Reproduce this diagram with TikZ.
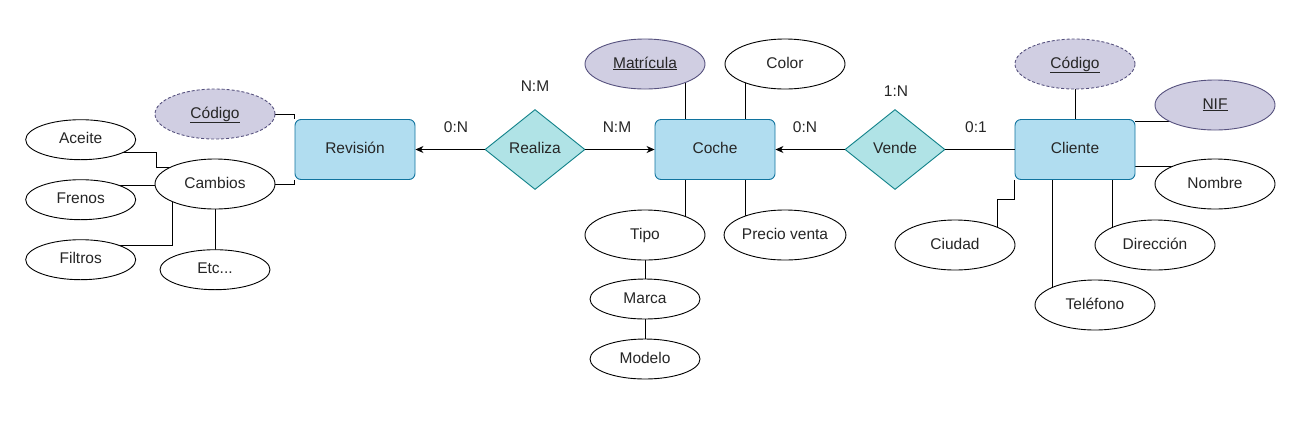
\documentclass[tikz,border=0pt]{standalone}
\usepackage{fontspec}
\setmainfont{Liberation Sans}
\usetikzlibrary{shapes.geometric,arrows.meta,calc,backgrounds}
\definecolor{entfill}{HTML}{B1DDF0}
\definecolor{entdraw}{HTML}{10739E}
\definecolor{relfill}{HTML}{B0E3E6}
\definecolor{reldraw}{HTML}{0E8088}
\definecolor{keyfill}{HTML}{D0CEE2}
\definecolor{keydraw}{HTML}{56517E}
\tikzset{
  every node/.style={font=\fontsize{15.5}{18}\selectfont, text=black!85, text height=11pt, text depth=3pt},
  entity/.style={draw=entdraw, fill=entfill, rounded corners=6pt, minimum width=120pt, minimum height=60pt, inner sep=0pt, line width=0.9pt},
  relation/.style={diamond, draw=reldraw, fill=relfill, minimum width=100pt, minimum height=80pt, inner sep=0pt, aspect=1.25, line width=0.9pt},
  attr/.style={ellipse, draw=black, fill=white, minimum width=120pt, minimum height=50pt, inner sep=0pt, line width=0.9pt},
  sattr/.style={attr, minimum width=110pt, minimum height=40pt},
  keyattr/.style={attr, draw=keydraw, fill=keyfill},
  weakkey/.style={keyattr, dash pattern=on 3pt off 2pt},
  link/.style={draw=black, line width=0.9pt},
  arr/.style={link, -{Stealth[length=8pt,width=7pt,inset=2.5pt]}},
  card/.style={inner sep=1pt}
}
\begin{document}
\begin{tikzpicture}[x=1pt,y=-1pt]
\useasboundingbox (0,0) rectangle (1305,424);
% entities
\node[entity] (rev) at (355,149.5) {Revisión};
\node[entity] (coche) at (715,149.5) {Coche};
\node[entity] (cliente) at (1075,149.5) {Cliente};
% relations
\node[relation] (realiza) at (535,149.5) {Realiza};
\node[relation] (vende) at (895,149.5) {Vende};
% left attributes
\node[weakkey] (codL) at (215,114) {\underline{Código}};
\node[attr] (cambios) at (215,184) {Cambios};
\node[sattr] (aceite) at (80.7,139.7) {Aceite};
\node[sattr] (frenos) at (80.7,199.7) {Frenos};
\node[sattr] (filtros) at (80.7,259.7) {Filtros};
\node[sattr] (etc) at (215,269.7) {Etc...};
% coche attributes
\node[keyattr] (matr) at (645,64) {\underline{Matrícula}};
\node[attr] (color) at (785,64) {Color};
\node[attr] (tipo) at (645,235) {Tipo};
\node[attr] (precio) at (785,235) {Precio venta};
\node[sattr] (marca) at (645,299) {Marca};
\node[sattr] (modelo) at (645,359) {Modelo};
% cliente attributes
\node[weakkey] (codR) at (1075,64) {\underline{Código}};
\node[keyattr] (nif) at (1215,105) {\underline{NIF}};
\node[attr] (nombre) at (1215,184) {Nombre};
\node[attr] (dir) at (1155,245) {Dirección};
\node[attr] (tel) at (1095,305) {Teléfono};
\node[attr] (ciudad) at (955,245) {Ciudad};
% cardinalities
\node[card] (c1) at (535,87) {N:M};
\node[card] (c2) at (456,128) {0:N};
\node[card] (c3) at (617,128) {N:M};
\node[card] (c4) at (805,128) {0:N};
\node[card] (c5) at (896,92) {1:N};
\node[card] (c6) at (976,128) {0:1};
% connectors
\draw[arr] (realiza.west) -- (rev.east);
\draw[arr] (realiza.east) -- (coche.west);
\draw[arr] (vende.west) -- (coche.east);
\draw[link] (vende.east) -- (cliente.west);
\begin{pgfonlayer}{background}
  % Revision
  \draw[link] (codL.center) -| (rev.north west);
  \draw[link] (cambios.center) -| (rev.south west);
  \draw[link] ($(aceite.center)+(0,13)$) -| ($(cambios.center)+(-59,-16.7)$) -- ($(cambios.center)+(0,-16.7)$);
  \draw[link] ($(frenos.center)+(0,-14.4)$) -- ($(cambios.center)+(0,1.3)$);
  \draw[link] ($(filtros.center)+(0,-14.7)$) -| ($(cambios.center)+(-42.3,0)$);
  \draw[link] (cambios.center) -- (etc.center);
  % Coche
  \coordinate (cn1) at ($(coche.north)+(-30,0)$);
  \coordinate (cn2) at ($(coche.north)+(30,0)$);
  \coordinate (cs1) at ($(coche.south)+(-30,0)$);
  \coordinate (cs2) at ($(coche.south)+(30,0)$);
  \draw[link] (cn1) -- (cn1 |- matr.center);
  \draw[link] (cn2) -- (cn2 |- color.center);
  \draw[link] (cs1) -- (cs1 |- tipo.center);
  \draw[link] (cs2) -- (cs2 |- precio.center);
  \draw[link] (tipo.center) -- (marca.center) -- (modelo.center);
  % Cliente
  \draw[link] (codR.center) -- (cliente.north);
  \coordinate (ce1) at ($(cliente.north east)+(0,2)$);
  \coordinate (ce2) at ($(cliente.east)+(0,17)$);
  \draw[link] (ce1) -- (ce1 -| nif.center);
  \draw[link] (ce2) -- (ce2 -| nombre.center);
  \coordinate (cb1) at ($(cliente.south)+(37.7,0)$);
  \coordinate (cb2) at ($(cliente.south)+(-22.3,0)$);
  \draw[link] (cb1) -- (cb1 |- dir.center);
  \draw[link] (cb2) -- (cb2 |- tel.center);
  \draw[link] (cliente.south west) -- ++(0,19.3) -| ($(ciudad.center)+(42.7,0)$);
\end{pgfonlayer}
\end{tikzpicture}
\end{document}
